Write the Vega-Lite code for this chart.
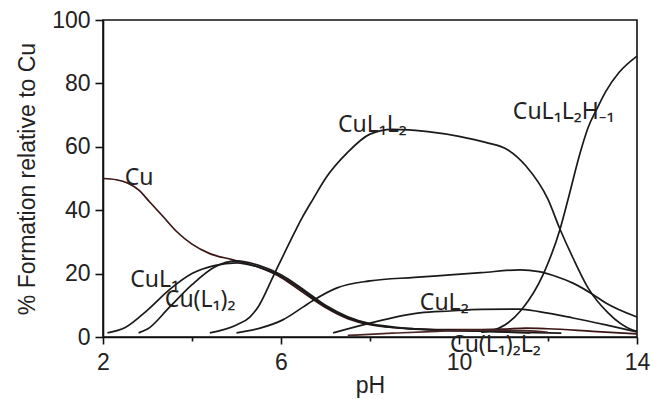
{
  "$schema": "https://vega.github.io/schema/vega-lite/v6.json",
  "autosize": {"type": "none"},
  "padding": {"left": 103, "top": 20, "right": 16, "bottom": 62},
  "width": 534,
  "height": 317,
  "background": "white",
  "config": {
    "font": "Liberation Sans",
    "view": {"stroke": "#111", "strokeWidth": 1.6},
    "axis": {
      "grid": false,
      "domainColor": "#111",
      "domainWidth": 1.6,
      "tickColor": "#111",
      "tickWidth": 1.6,
      "labelFont": "Liberation Sans",
      "labelFontSize": 23,
      "labelColor": "#222",
      "titleFont": "Liberation Sans",
      "titleFontSize": 23,
      "titleFontWeight": "normal",
      "titleColor": "#222"
    }
  },
  "datasets": {
    "curves": [
      {"species": "Cu", "pH": 2.0, "pct": 50.0},
      {"species": "Cu", "pH": 2.3, "pct": 49.6},
      {"species": "Cu", "pH": 2.55, "pct": 48.6},
      {"species": "Cu", "pH": 2.8, "pct": 46.4},
      {"species": "Cu", "pH": 3.05, "pct": 42.6},
      {"species": "Cu", "pH": 3.35, "pct": 38.0},
      {"species": "Cu", "pH": 3.66, "pct": 33.2},
      {"species": "Cu", "pH": 4.0, "pct": 29.3},
      {"species": "Cu", "pH": 4.4, "pct": 26.3},
      {"species": "Cu", "pH": 4.9, "pct": 24.4},
      {"species": "Cu", "pH": 5.5, "pct": 22.0},
      {"species": "Cu", "pH": 6.0, "pct": 18.8},
      {"species": "Cu", "pH": 6.5, "pct": 14.0},
      {"species": "Cu", "pH": 7.0, "pct": 9.3},
      {"species": "Cu", "pH": 7.5, "pct": 5.8},
      {"species": "Cu", "pH": 8.0, "pct": 3.9},
      {"species": "Cu", "pH": 8.5, "pct": 3.0},
      {"species": "Cu", "pH": 9.0, "pct": 2.6},
      {"species": "Cu", "pH": 10.0, "pct": 2.3},
      {"species": "Cu", "pH": 11.0, "pct": 2.5},
      {"species": "Cu", "pH": 11.5, "pct": 2.8},
      {"species": "Cu", "pH": 12.0, "pct": 2.6},
      {"species": "Cu", "pH": 13.0, "pct": 1.8},
      {"species": "Cu", "pH": 14.0, "pct": 1.0},

      {"species": "CuL1", "pH": 2.1, "pct": 1.3},
      {"species": "CuL1", "pH": 2.5, "pct": 3.0},
      {"species": "CuL1", "pH": 3.0, "pct": 8.5},
      {"species": "CuL1", "pH": 3.5, "pct": 15.0},
      {"species": "CuL1", "pH": 4.0, "pct": 20.0},
      {"species": "CuL1", "pH": 4.5, "pct": 22.5},
      {"species": "CuL1", "pH": 5.0, "pct": 23.4},
      {"species": "CuL1", "pH": 5.5, "pct": 22.0},
      {"species": "CuL1", "pH": 6.0, "pct": 19.2},
      {"species": "CuL1", "pH": 6.5, "pct": 14.5},
      {"species": "CuL1", "pH": 7.0, "pct": 9.6},
      {"species": "CuL1", "pH": 7.5, "pct": 6.1},
      {"species": "CuL1", "pH": 8.0, "pct": 4.1},
      {"species": "CuL1", "pH": 8.5, "pct": 3.0},
      {"species": "CuL1", "pH": 9.0, "pct": 2.5},
      {"species": "CuL1", "pH": 10.0, "pct": 2.0},
      {"species": "CuL1", "pH": 11.0, "pct": 1.6},
      {"species": "CuL1", "pH": 11.6, "pct": 1.3},

      {"species": "CuL12", "pH": 2.8, "pct": 1.3},
      {"species": "CuL12", "pH": 3.0, "pct": 2.5},
      {"species": "CuL12", "pH": 3.5, "pct": 9.5},
      {"species": "CuL12", "pH": 4.0, "pct": 16.5},
      {"species": "CuL12", "pH": 4.5, "pct": 22.0},
      {"species": "CuL12", "pH": 5.0, "pct": 24.0},
      {"species": "CuL12", "pH": 5.5, "pct": 22.6},
      {"species": "CuL12", "pH": 6.0, "pct": 19.6},
      {"species": "CuL12", "pH": 6.5, "pct": 15.0},
      {"species": "CuL12", "pH": 7.0, "pct": 10.0},
      {"species": "CuL12", "pH": 7.5, "pct": 6.4},
      {"species": "CuL12", "pH": 8.0, "pct": 4.2},
      {"species": "CuL12", "pH": 8.5, "pct": 3.2},
      {"species": "CuL12", "pH": 9.0, "pct": 2.6},
      {"species": "CuL12", "pH": 10.0, "pct": 2.0},
      {"species": "CuL12", "pH": 11.0, "pct": 1.6},
      {"species": "CuL12", "pH": 12.3, "pct": 1.2},

      {"species": "CuL1L2", "pH": 4.4, "pct": 1.3},
      {"species": "CuL1L2", "pH": 5.0, "pct": 3.8},
      {"species": "CuL1L2", "pH": 5.3, "pct": 6.3},
      {"species": "CuL1L2", "pH": 5.5, "pct": 9.8},
      {"species": "CuL1L2", "pH": 5.82, "pct": 19.0},
      {"species": "CuL1L2", "pH": 6.2, "pct": 30.0},
      {"species": "CuL1L2", "pH": 6.47, "pct": 37.5},
      {"species": "CuL1L2", "pH": 6.72, "pct": 43.5},
      {"species": "CuL1L2", "pH": 7.03, "pct": 50.6},
      {"species": "CuL1L2", "pH": 7.48, "pct": 58.0},
      {"species": "CuL1L2", "pH": 8.0, "pct": 64.0},
      {"species": "CuL1L2", "pH": 8.5, "pct": 65.5},
      {"species": "CuL1L2", "pH": 9.3, "pct": 64.8},
      {"species": "CuL1L2", "pH": 10.0, "pct": 63.3},
      {"species": "CuL1L2", "pH": 10.6, "pct": 61.4},
      {"species": "CuL1L2", "pH": 11.1, "pct": 59.0},
      {"species": "CuL1L2", "pH": 11.5, "pct": 54.0},
      {"species": "CuL1L2", "pH": 12.0, "pct": 43.4},
      {"species": "CuL1L2", "pH": 12.27, "pct": 34.0},
      {"species": "CuL1L2", "pH": 12.56, "pct": 25.0},
      {"species": "CuL1L2", "pH": 12.9, "pct": 15.5},
      {"species": "CuL1L2", "pH": 13.35, "pct": 7.6},
      {"species": "CuL1L2", "pH": 13.9, "pct": 2.2},
      {"species": "CuL1L2", "pH": 14.0, "pct": 1.8},

      {"species": "CuL1L2H-1", "pH": 10.5, "pct": 1.5},
      {"species": "CuL1L2H-1", "pH": 10.9, "pct": 2.8},
      {"species": "CuL1L2H-1", "pH": 11.4, "pct": 8.5},
      {"species": "CuL1L2H-1", "pH": 11.9, "pct": 20.0},
      {"species": "CuL1L2H-1", "pH": 12.27, "pct": 34.0},
      {"species": "CuL1L2H-1", "pH": 12.45, "pct": 43.4},
      {"species": "CuL1L2H-1", "pH": 12.72, "pct": 58.0},
      {"species": "CuL1L2H-1", "pH": 12.9, "pct": 66.0},
      {"species": "CuL1L2H-1", "pH": 13.1, "pct": 72.0},
      {"species": "CuL1L2H-1", "pH": 13.3, "pct": 77.5},
      {"species": "CuL1L2H-1", "pH": 13.6, "pct": 83.5},
      {"species": "CuL1L2H-1", "pH": 14.0, "pct": 88.6},

      {"species": "S20", "pH": 5.0, "pct": 1.3},
      {"species": "S20", "pH": 5.53, "pct": 2.8},
      {"species": "S20", "pH": 6.04, "pct": 5.4},
      {"species": "S20", "pH": 6.5, "pct": 9.5},
      {"species": "S20", "pH": 6.72, "pct": 11.5},
      {"species": "S20", "pH": 7.26, "pct": 15.5},
      {"species": "S20", "pH": 8.0, "pct": 17.7},
      {"species": "S20", "pH": 9.0, "pct": 18.8},
      {"species": "S20", "pH": 9.8, "pct": 19.6},
      {"species": "S20", "pH": 10.5, "pct": 20.3},
      {"species": "S20", "pH": 11.37, "pct": 21.2},
      {"species": "S20", "pH": 11.8, "pct": 20.6},
      {"species": "S20", "pH": 12.2, "pct": 19.0},
      {"species": "S20", "pH": 12.56, "pct": 17.0},
      {"species": "S20", "pH": 13.0, "pct": 13.5},
      {"species": "S20", "pH": 13.3, "pct": 10.7},
      {"species": "S20", "pH": 14.0, "pct": 6.3},

      {"species": "CuL2", "pH": 7.17, "pct": 1.3},
      {"species": "CuL2", "pH": 8.0, "pct": 4.4},
      {"species": "CuL2", "pH": 9.12, "pct": 7.6},
      {"species": "CuL2", "pH": 9.8, "pct": 8.2},
      {"species": "CuL2", "pH": 10.5, "pct": 8.7},
      {"species": "CuL2", "pH": 11.37, "pct": 8.8},
      {"species": "CuL2", "pH": 11.8, "pct": 8.0},
      {"species": "CuL2", "pH": 12.56, "pct": 6.0},
      {"species": "CuL2", "pH": 13.3, "pct": 3.8},
      {"species": "CuL2", "pH": 14.0, "pct": 1.6},

      {"species": "CuL12L2", "pH": 7.5, "pct": 0.5},
      {"species": "CuL12L2", "pH": 8.5, "pct": 1.2},
      {"species": "CuL12L2", "pH": 9.5, "pct": 1.8},
      {"species": "CuL12L2", "pH": 10.5, "pct": 2.2},
      {"species": "CuL12L2", "pH": 11.5, "pct": 2.0},
      {"species": "CuL12L2", "pH": 12.0, "pct": 1.5}
    ],
    "labels": [
      {"label": "Cu", "pH": 2.49, "pct": 48.1},
      {"label": "CuL₁", "pH": 2.61, "pct": 15.8},
      {"label": "Cu(L₁)₂", "pH": 3.39, "pct": 9.5},
      {"label": "CuL₁L₂", "pH": 7.28, "pct": 64.6},
      {"label": "CuL₁L₂H₋₁", "pH": 11.21, "pct": 68.7},
      {"label": "CuL₂", "pH": 9.12, "pct": 8.5},
      {"label": "Cu(L₁)₂L₂", "pH": 9.8, "pct": -4.7}
    ]
  },
  "layer": [
    {
      "data": {"name": "curves"},
      "mark": {"type": "line", "strokeWidth": 1.7, "interpolate": "monotone"},
      "encoding": {
        "x": {
          "field": "pH", "type": "quantitative",
          "scale": {"domain": [2, 14], "nice": false, "zero": false},
          "axis": {
            "title": "pH",
            "values": [2, 4, 6, 8, 10, 12, 14],
            "labelExpr": "(datum.value - 2) % 4 === 0 ? datum.label : ''",
            "tickSize": {"condition": {"test": "(datum.value - 2) % 4 === 0", "value": 7}, "value": 4},
            "labelPadding": 7,
            "titlePadding": 0,
            "labelFlush": false
          }
        },
        "y": {
          "field": "pct", "type": "quantitative",
          "scale": {"domain": [0, 100], "nice": false},
          "axis": {
            "title": "% Formation relative to Cu",
            "values": [0, 10, 20, 30, 40, 50, 60, 70, 80, 90, 100],
            "labelExpr": "datum.value % 20 === 0 ? datum.label : ''",
            "tickSize": {"condition": {"test": "datum.value % 20 === 0", "value": 8}, "value": 5},
            "labelPadding": 5,
            "titlePadding": 12,
            "labelFlush": false
          }
        },
        "color": {
          "field": "species", "type": "nominal",
          "scale": {
            "domain": ["Cu", "CuL1", "CuL12", "CuL1L2", "CuL1L2H-1", "S20", "CuL2", "CuL12L2"],
            "range": ["#3b1414", "#1a1a1a", "#1a1a1a", "#1a1a1a", "#1a1a1a", "#1a1a1a", "#1a1a1a", "#4a2626"]
          },
          "legend": null
        },
        "detail": {"field": "species"}
      }
    },
    {
      "data": {"name": "labels"},
      "mark": {"type": "text", "align": "left", "baseline": "alphabetic", "fontSize": 23, "color": "#222", "font": "Noto Sans"},
      "encoding": {
        "x": {"field": "pH", "type": "quantitative"},
        "y": {"field": "pct", "type": "quantitative"},
        "text": {"field": "label"}
      }
    }
  ]
}
